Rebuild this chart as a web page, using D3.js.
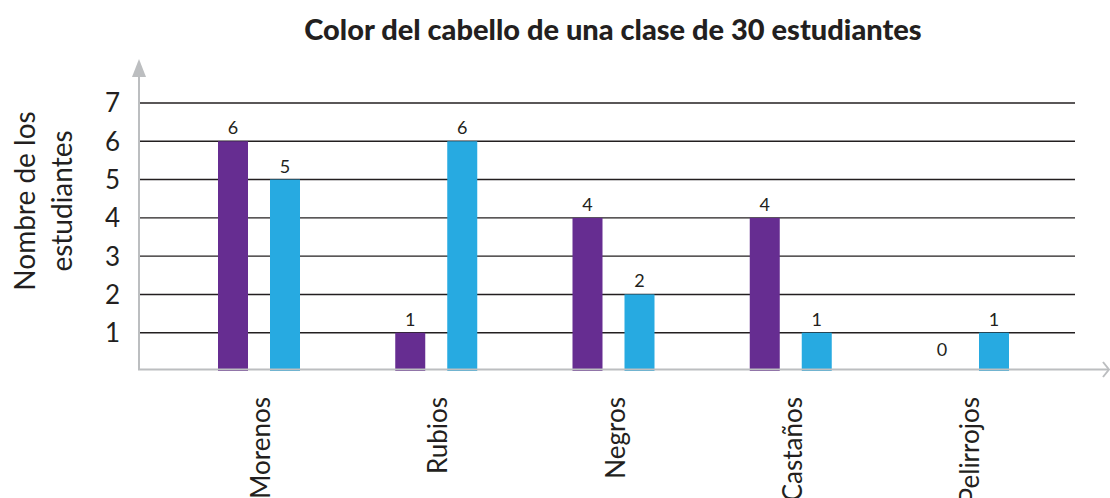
<!DOCTYPE html>
<html>
<head>
<meta charset="utf-8">
<script src="https://cdn.jsdelivr.net/npm/d3@7"></script>
<style>
  html, body { margin: 0; padding: 0; background: #fff; }
  svg { display: block; }
  text { font-family: Lato, "Noto Sans", sans-serif; fill: #231f20; }
</style>
</head>
<body>
<svg id="chart" width="1110" height="498"></svg>
<script>
// Hair colour categories and the two series of student counts
const categories = ["Morenos", "Rubios", "Negros", "Castaños", "Pelirrojos"];
const seriesA = [6, 1, 4, 4, 0];
const seriesB = [5, 6, 2, 1, 1];
const yTicks = [1, 2, 3, 4, 5, 6, 7];
const title = "Color del cabello de una clase de 30 estudiantes";
const yTitle = ["Nombre de los", "estudiantes"];

const colors = ["#662d91", "#27aae1"];

const svg = d3.select("#chart");
const x0 = 139, xGridEnd = 1075, xAxisEnd = 1108;

const y = d3.scaleLinear().domain([0, 7]).range([371, 103]);
const x = d3.scalePoint().domain(categories).range([259, 968]);
const barW = 30, barOffset = 26;

// Title
svg.append("text")
  .attr("x", 613).attr("y", 40)
  .attr("text-anchor", "middle")
  .style("font-weight", 900)
  .style("font-size", "29px")
  .text(title);

// Gridlines
svg.append("g").selectAll("line").data(yTicks).join("line")
  .attr("x1", x0).attr("x2", xGridEnd)
  .attr("y1", d => y(d)).attr("y2", d => y(d))
  .attr("stroke", "#231f20").attr("stroke-width", 1.4);

// Y tick labels
svg.append("g").selectAll("text").data(yTicks).join("text")
  .attr("x", 120).attr("y", d => y(d))
  .attr("dy", "0.36em")
  .attr("text-anchor", "end")
  .style("font-size", "26px")
  .text(d => d);

// Y axis title
svg.append("text")
  .attr("transform", "translate(35,201) rotate(-90)")
  .attr("text-anchor", "middle")
  .style("font-size", "28px")
  .selectAll("tspan").data(yTitle).join("tspan")
  .attr("x", 0).attr("dy", (d, i) => i === 0 ? 0 : 37)
  .text(d => d);

// Bars
const groups = svg.append("g").selectAll("g").data(categories).join("g")
  .attr("transform", d => `translate(${x(d)},0)`);

[seriesA, seriesB].forEach((vals, s) => {
  const dx = s === 0 ? -barOffset - barW / 2 : barOffset - barW / 2;
  groups.append("rect")
    .attr("x", dx)
    .attr("y", (d, i) => y(vals[i]))
    .attr("width", barW)
    .attr("height", (d, i) => y(0) - y(vals[i]))
    .attr("fill", colors[s]);
  groups.append("text")
    .attr("x", dx + barW / 2)
    .attr("y", (d, i) => y(vals[i]) - (vals[i] === 0 ? 15 : 7))
    .attr("text-anchor", "middle")
    .style("font-size", "18px")
    .text((d, i) => vals[i]);
});

// Axes with arrows
const axisColor = "#bcbec0";
svg.append("line")
  .attr("x1", x0).attr("x2", x0).attr("y1", 370).attr("y2", 70)
  .attr("stroke", axisColor).attr("stroke-width", 2);
svg.append("path")
  .attr("d", `M${x0},59 L${x0 + 7},77 L${x0 - 7},77 Z`)
  .attr("fill", axisColor);
svg.append("line")
  .attr("x1", x0 - 1).attr("x2", xAxisEnd).attr("y1", 369.5).attr("y2", 369.5)
  .attr("stroke", axisColor).attr("stroke-width", 2);
svg.append("path")
  .attr("d", `M${xAxisEnd - 5},362 L${xAxisEnd + 1},369.5 L${xAxisEnd - 5},377`)
  .attr("fill", "none").attr("stroke", axisColor).attr("stroke-width", 2);

// Category labels
svg.append("g").selectAll("text").data(categories).join("text")
  .attr("transform", d => `translate(${x(d) + 2},397) rotate(-90)`)
  .attr("dy", "0.35em")
  .attr("text-anchor", "end")
  .style("font-size", "26px")
  .text(d => d);
</script>
</body>
</html>
